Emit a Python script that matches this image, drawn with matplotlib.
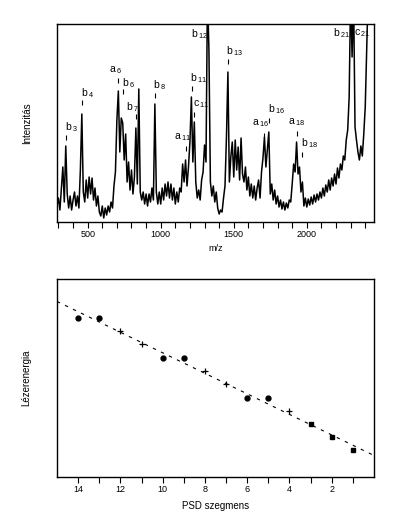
import numpy as np
import matplotlib
matplotlib.use("Agg")
import matplotlib.pyplot as plt

plt.rcParams['font.family'] = ['Liberation Sans', 'DejaVu Sans']
plt.rcParams['mathtext.fontset'] = 'custom'
plt.rcParams['mathtext.rm'] = 'Liberation Sans'

# --- mass spectrum (m/z grid step 10, intensity) ---
mz = np.arange(290, 2470, 10)
intensity = [
    16, 24, 12, 34, 55, 20, 76, 28, 14, 26,          # 290-380
    12, 22, 30, 16, 26, 14, 52, 108, 30, 20,         # 390-480
    42, 24, 45, 28, 44, 22, 34, 16, 26, 10,          # 490-580
    6, 16, 4, 14, 7, 16, 10, 20, 14, 36,             # 590-680
    50, 102, 131, 70, 104, 99, 62, 88, 40, 60,       # 690-780
    32, 52, 28, 45, 94, 38, 133, 30, 22, 30,         # 790-880
    18, 28, 16, 28, 20, 34, 22, 118, 30, 18,         # 890-980
    30, 18, 34, 22, 38, 26, 40, 24, 38, 22,          # 990-1080
    34, 18, 30, 20, 34, 30, 58, 40, 62, 36,          # 1090-1180
    55, 80, 125, 60, 100, 40, 24, 32, 22, 42,        # 1190-1280
    50, 77, 60, 230, 172, 40, 26, 36, 20, 30,        # 1290-1380
    14, 8, 12, 10, 24, 36, 85, 150, 40, 65,          # 1390-1480
    80, 45, 82, 52, 75, 42, 84, 48, 40, 55,          # 1490-1580
    32, 45, 26, 38, 24, 36, 22, 34, 42, 24,          # 1590-1680
    50, 64, 85, 55, 72, 90, 28, 38, 22, 32,          # 1690-1780
    18, 26, 15, 22, 13, 20, 12, 19, 14, 22,          # 1790-1880
    20, 38, 58, 50, 80, 48, 55, 30, 40, 16,          # 1890-1980
    24, 15, 23, 17, 25, 18, 27, 20, 28, 22,          # 1990-2080
    30, 24, 34, 26, 37, 30, 42, 32, 44, 36,          # 2090-2180
    48, 38, 54, 44, 58, 52, 66, 62, 82, 92,          # 2190-2280
    125, 230, 165, 230, 95, 82, 70, 62, 76, 66,      # 2290-2380
    88, 115, 172, 230, 230, 230, 230, 230,           # 2390-2460
]

# fragment ion labels: ion letter, number, left edge / middle of text
ion_type = ['b', 'b', 'a', 'b', 'b', 'b', 'a', 'b', 'c', 'b', 'b',
            'a', 'b', 'a', 'b', 'b', 'c']
ion_num = ['3', '4', '6', '6', '7', '8', '11', '11', '11', '12', '13',
           '16', '16', '18', '18', '21', '21']
label_x = [345, 452, 646, 733, 763, 945, 1091, 1201, 1219, 1205, 1445,
           1624, 1735, 1870, 1961, 2180, 2326]
label_y = [95, 129, 152, 139, 115, 137, 85, 144, 118, 188, 171,
           99, 113, 100, 79, 189, 189]
# short marker dashes above the peaks
tick_x = [352, 463, 710, 744, 831, 959, 1174, 1213, 1230, 1459,
          1710, 1744, 1936, 1970]
tick_top = [87, 122, 144, 133, 108, 129, 76, 136, 110, 163,
            89, 104, 91, 70]
tick_len = 5

# --- laser energy vs PSD segment ---
seg_dot = [14, 13, 10, 9, 6, 5]
energy_dot = [159.3, 159.3, 119.3, 119.3, 79.3, 79.3]
seg_plus = [12, 11, 8, 7, 4]
energy_plus = [146, 133, 106, 92.7, 65.7]
seg_sq = [3, 2, 1]
energy_sq = [52.7, 40.3, 27]

fig = plt.figure(figsize=(3.98, 5.32), dpi=100)
ax1 = fig.add_axes([0.1432, 0.5827, 0.7965, 0.3722])
ax2 = fig.add_axes([0.1432, 0.1034, 0.7965, 0.3722])

ax1.plot(mz, intensity, color='black', lw=1.1)
ax1.set_xlim(290, 2460)
ax1.set_ylim(0, 198)
for t, n, x, y in zip(ion_type, ion_num, label_x, label_y):
    ax1.text(x, y, t + r'$_{\,' + n + '}$', fontsize=7.5, ha='left', va='center')
ax1.vlines(tick_x, np.array(tick_top) - tick_len, tick_top, color='black', lw=0.8)
ax1.set_xticks([500, 1000, 1500, 2000])
ax1.set_xticks(np.arange(300, 2460, 100), minor=True)
ax1.set_yticks([])
ax1.set_xlabel('m/z', fontsize=6.5)
ax1.xaxis.set_label_coords(0.5, -0.11)
ax1.set_ylabel('Intenzitás', fontsize=7)
ax1.yaxis.set_label_coords(-0.08, 0.5)

ax2.plot(seg_dot, energy_dot, 'o', color='black', ms=3.5)
ax2.plot(seg_plus, energy_plus, '+', color='black', ms=4, mew=0.9)
ax2.plot(seg_sq, energy_sq, 's', color='black', ms=2.5)
all_seg = np.array(seg_dot + seg_plus + seg_sq)
all_en = np.array(energy_dot + energy_plus + energy_sq)
k, b0 = np.polyfit(all_seg, all_en, 1)
xf = np.array([15, 0])
ax2.plot(xf, k * xf + b0, color='black', lw=0.8, dashes=(3, 5))
ax2.set_xlim(15, 0)
ax2.set_ylim(0, 198)
ax2.set_xticks([14, 12, 10, 8, 6, 4, 2])
ax2.set_xticks([13, 11, 9, 7, 5, 3, 1], minor=True)
ax2.set_yticks([])
ax2.set_xlabel('PSD szegmens', fontsize=7)
ax2.xaxis.set_label_coords(0.5, -0.12)
ax2.set_ylabel('Lézerenergia', fontsize=7)
ax2.yaxis.set_label_coords(-0.08, 0.5)

for ax in (ax1, ax2):
    for s in ax.spines.values():
        s.set_linewidth(1.0)
    ax.tick_params(axis='x', which='both', direction='out', length=4,
                   width=0.8, labelsize=6.5, pad=2)

fig.savefig('out.png', dpi=100)
